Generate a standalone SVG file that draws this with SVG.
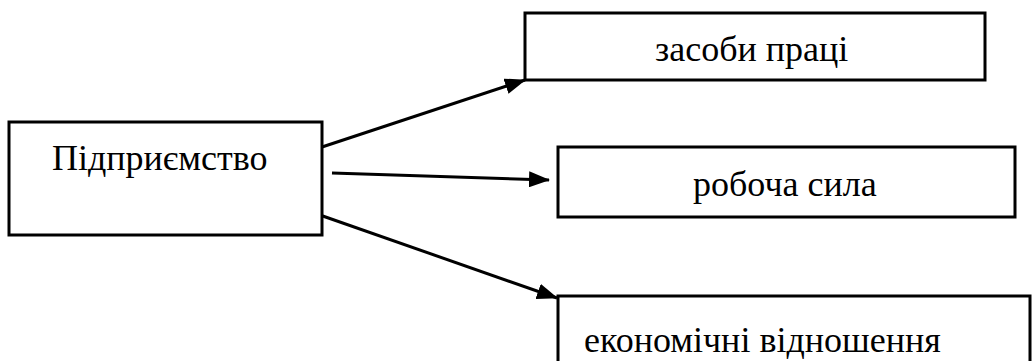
<svg xmlns="http://www.w3.org/2000/svg" width="1035" height="361" viewBox="0 0 1035 361">
<style>
.box{fill:#fff;stroke:#000;stroke-width:3}
.lbl{font-family:"Liberation Serif","Times New Roman",serif;font-size:36px;fill:#000}
.conn{stroke:#000;stroke-width:3;fill:none}
</style>
<defs>
<marker id="ah" markerUnits="userSpaceOnUse" markerWidth="21" markerHeight="16" refX="20" refY="8" orient="auto">
<path d="M0,0 L21,8 L0,16 Z" fill="#000"/>
</marker>
</defs>
<rect width="1035" height="361" fill="#fff"/>
<g id="connectors">
<line class="conn" x1="322" y1="147" x2="525" y2="80" marker-end="url(#ah)"/>
<line class="conn" x1="332" y1="173" x2="549" y2="180" marker-end="url(#ah)"/>
<line class="conn" x1="317" y1="214" x2="557" y2="298" marker-end="url(#ah)"/>
</g>
<g id="node-enterprise">
<rect class="box" x="9" y="122" width="313" height="113"/>
<text class="lbl" x="52" y="170">Підприємство</text>
</g>
<g id="node-means">
<rect class="box" x="525" y="13" width="460" height="67"/>
<text class="lbl" x="655" y="61">засоби праці</text>
</g>
<g id="node-labour">
<rect class="box" x="558" y="147" width="457" height="70"/>
<text class="lbl" x="693" y="196">робоча сила</text>
</g>
<g id="node-relations">
<rect class="box" x="558" y="296" width="472" height="90"/>
<text class="lbl" x="584" y="352">економічні відношення</text>
</g>
</svg>
